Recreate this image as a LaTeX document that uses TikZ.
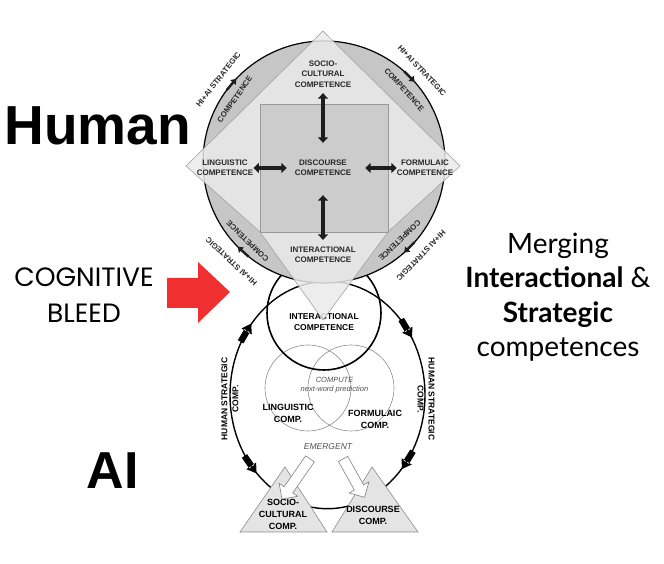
\documentclass[tikz,border=0pt]{standalone}
\usepackage{fontspec}
\setmainfont{Liberation Sans}
\newfontfamily\latofont{Lato}
\newfontfamily\popfont{Poppins}
\usetikzlibrary{arrows.meta,calc,decorations.markings,shapes.arrows}
\definecolor{segfill}{RGB}{198,198,198}
\definecolor{diafill}{RGB}{234,234,234}
\definecolor{sqfill}{RGB}{204,204,204}
\definecolor{trifill}{RGB}{228,228,228}
\definecolor{lblcol}{RGB}{40,40,40}
\definecolor{arrcol}{RGB}{30,30,30}
\definecolor{bleedred}{RGB}{240,48,48}
\newcommand\looptip[1]{\fill[xscale=#1](-12pt,-3.2pt)rectangle(1pt,3.2pt)(0,-6pt)--(9pt,0)--(0,6pt)--cycle;}
\begin{document}
\begin{tikzpicture}[x=1pt,y=1pt,
	lbl/.style={font=\fontsize{8}{10.5}\selectfont\bfseries,text=lblcol,align=center,inner sep=1pt},
	seglbl/.style={font=\fontsize{7.8}{9}\selectfont\bfseries,text=lblcol,inner sep=0pt},
	comp/.style={font=\fontsize{9}{12}\selectfont\bfseries,align=center,inner sep=1pt},
	note/.style={font=\fontsize{7.5}{9}\selectfont\itshape,text=black!68,align=center,inner sep=0pt},
	dblar/.style={draw=arrcol,line width=3.6pt,{Triangle[length=5.5pt,width=10pt]}-{Triangle[length=5.5pt,width=10pt]}},
	segar/.style={draw=arrcol,line width=2.4pt,-{Triangle[length=5pt,width=7pt]}},
	warr/.style={single arrow,draw=black!50,fill=white,line width=0.6pt,inner xsep=0pt,inner ysep=5pt,single arrow head extend=6pt,minimum height=#1,sloped,allow upside down,pos=0.5}]
			\useasboundingbox(0,0)rectangle(664,564);
			\coordinate(ct)at(324,402);
			\coordinate(lc)at(327.5,169);
			\draw[line width=1.4pt,postaction={decorate},decoration={markings,mark=at position 0.103 with {\looptip{-1}},mark=at position 0.4 with {\looptip{-1}},mark=at position 0.613 with {\looptip{1}},mark=at position 0.895 with {\looptip{-1}}}](lc)ellipse[x radius=97.5,y radius=113.7];
			\draw[black!45,line width=0.6pt](308,176)circle[radius=43](351,176)circle[radius=43];
			\draw[line width=1.6pt](324,251)circle[radius=57];
			\node[comp,font=\fontsize{8.5}{10.5}\selectfont\bfseries](interL)at(324,242){INTERACTIONAL\\COMPETENCE};
			\node[note](compute)at(334.5,178.5){COMPUTE\\next-word prediction};
			\node[comp](lingC)at(288,151){LINGUISTIC\\COMP.};
			\node[comp](formC)at(375,145){FORMULAIC\\COMP.};
			\node[note,font=\fontsize{8.5}{10}\selectfont\itshape](emrg)at(328,117){EMERGENT};
			\node[comp,font=\fontsize{8.5}{11}\selectfont\bfseries,rotate=90](humL)at(230,165){HUMAN STRATEGIC\\COMP.};
			\node[comp,font=\fontsize{8.5}{11}\selectfont\bfseries,rotate=-90](humR)at(426,165){HUMAN STRATEGIC\\COMP.};
			\filldraw[fill=segfill,line width=1.2pt](ct)circle[radius=121];
			\filldraw[fill=diafill,fill opacity=0.85,draw=black!40,line width=0.5pt](323,533)--(460,398)--(388,332)--(323,244)--(260,332)--(186,398)--cycle;
			\filldraw[fill=sqfill,draw=black!40,line width=0.5pt](260,332)rectangle(388,460);
			\node[lbl](socio)at(323,490){SOCIO-\\CULTURAL\\COMPETENCE};
			\node[lbl](lingu)at(225,396){LINGUISTIC\\COMPETENCE};
			\node[lbl](disc)at(323,396){DISCOURSE\\COMPETENCE};
			\node[lbl](form)at(425,396){FORMULAIC\\COMPETENCE};
			\node[lbl](inter)at(323,309){INTERACTIONAL\\COMPETENCE};
			\draw[dblar,shorten <=15.9pt,shorten >=4.6pt](disc)--(socio);
			\draw[dblar,shorten <=17.9pt,shorten >=5.8pt](disc)--(inter);
			\draw[dblar,shorten <=6.8pt,shorten >=-1pt](disc)--(lingu);
			\draw[dblar,shorten <=12.8pt,shorten >=-1.2pt](disc)--(form);
			\node[seglbl,rotate=52](tlo)at($(ct)+(142:134)$){HI+AI STRATEGIC};
			\node[seglbl,rotate=55](tli)at($(ct)+(145:109)$){COMPETENCE};
			\node[seglbl,rotate=-47](tro)at($(ct)+(43:134)$){HI+AI STRATEGIC};
			\node[seglbl,rotate=-48](tri)at($(ct)+(42:108)$){COMPETENCE};
			\node[seglbl,rotate=-134](bro)at($(ct)+(-44:135)$){HI+AI STRATEGIC};
			\node[seglbl,rotate=-136](bri)at($(ct)+(-46:109)$){COMPETENCE};
			\node[seglbl,rotate=137](blo)at($(ct)+(227:136)$){HI+AI STRATEGIC};
			\node[seglbl,rotate=136](bli)at($(ct)+(226:110)$){COMPETENCE};
			\draw[segar]($(ct)+(143.5:121)$)--($(ct)+(136.5:121)$);
			\draw[segar]($(ct)+(48.5:121)$)--($(ct)+(41.5:121)$);
			\draw[segar]($(ct)+(-41.5:121)$)--($(ct)+(-48.5:121)$);
			\draw[segar]($(ct)+(231.5:121)$)--($(ct)+(224.5:121)$);
			\filldraw[fill=trifill,draw=black!45,line width=0.6pt](240,32)--(327,32)--(285,97)--cycle;
			\filldraw[fill=trifill,draw=black!45,line width=0.6pt](332,32)--(418,32)--(372,97)--cycle;
			\node[comp](socioC)at(283,50){SOCIO-\\CULTURAL\\COMP.};
			\node[comp](discC)at(373,49){DISCOURSE\\COMP.};
			\coordinate(emL)at(312,108);
			\coordinate(emR)at(342,107);
			\path(emL)--(socioC.north)node[warr=49pt]{};
			\path(emR)--([shift={(-10pt,10pt)}]discC.north)node[warr=44pt]{};
			\fill[bleedred](167,286)--(198,286)--(198,302)--(230,272)--(198,241)--(198,256)--(167,256)--cycle;
			\node[anchor=base,inner sep=0pt,font=\fontsize{55}{60}\selectfont\bfseries](human)at(97.5,419){Human};
			\node[anchor=base,inner sep=0pt,font=\fontsize{52}{56}\selectfont\bfseries](ai)at(112.5,75){AI};
			\node[inner sep=0pt,align=center,font=\popfont\fontsize{26.5}{36}\selectfont](bleed)at(84,268.7){COGNITIVE\\BLEED};
			\node[inner sep=0pt,align=center,font=\latofont\fontsize{28}{34.5}\selectfont](merge)at(558,267){Merging\\\textbf{Interactional} \&\\\textbf{Strategic}\\competences};
			\end{tikzpicture}
\end{document}
